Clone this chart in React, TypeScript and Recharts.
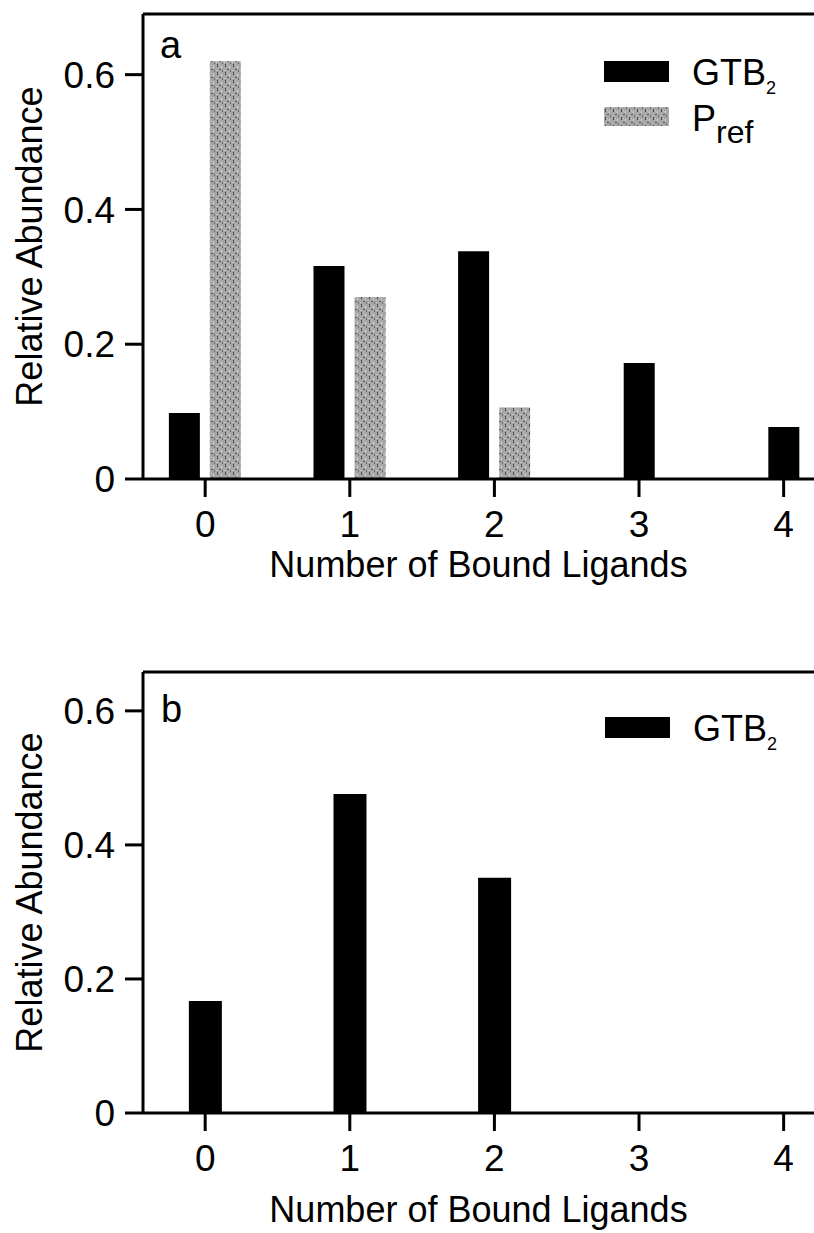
import React from "react";
import { BarChart, Bar, XAxis, YAxis, Legend, Label, ReferenceLine } from "recharts";

// number of bound ligands (x categories)
const ligands = [0, 1, 2, 3, 4];
// panel a
const gtbA = [0.098, 0.316, 0.338, 0.172, 0.077];
const prefA: (number | null)[] = [0.62, 0.27, 0.106, null, null];
// panel b
const gtbB = [0.167, 0.476, 0.351, 0, 0];
const yTicks = [0, 0.2, 0.4, 0.6];

const FONT = "'Liberation Sans', Arial, Helvetica, sans-serif";
const X_DOMAIN: [number, number] = [-0.43, 4.21];
const Y_MAX_A = 0.69;
const Y_MAX_B = 0.658;

// GTB bars pair up with Pref where there is a Pref value, and sit alone otherwise
const dataA = ligands.map((n, i) => ({
  n,
  gtb: prefA[i] != null ? gtbA[i] : null,
  pref: prefA[i],
  gtbSolo: prefA[i] == null ? gtbA[i] : null,
}));
const dataB = ligands.map((n, i) => ({ n, gtb: gtbB[i] }));

// legend name -> [main text, subscript, subscript size, subscript shift]
const SUBS: Record<string, [string, string, number, number]> = {
  GTB: ["GTB", "2", 18, 9],
  P: ["P", "ref", 32, 12],
};

const tickStyle = { fontSize: 37, fontFamily: FONT, fill: "#000" };
const axisLine = { stroke: "#000", strokeWidth: 3 };
const tickLine = { stroke: "#000", strokeWidth: 3 };
const fmt = (v: number) => (v === 0 ? "0" : v.toFixed(1));

const YTitle = ({ viewBox }: any) => {
  const cx = 42;
  const cy = viewBox.y + viewBox.height / 2;
  return (
    <text
      x={cx}
      y={cy}
      transform={`rotate(-90, ${cx}, ${cy})`}
      textAnchor="middle"
      fontSize={36}
      fontFamily={FONT}
      fill="#000"
    >
      Relative Abundance
    </text>
  );
};

const LegendBox = ({ payload }: any) => {
  const items = (payload || []).filter((p: any) => p.type !== "none");
  return (
    <svg width={200} height={90} style={{ display: "block", overflow: "visible" }}>
      {items.map((item: any, i: number) => {
        const [main, sub, subSize, subDy] = SUBS[item.value] || [item.value, "", 0, 0];
        const y = i * 46;
        return (
          <g key={`leg-${i}`}>
            <rect x={0} y={y} width={65} height={i === 0 ? 21 : 19} fill={item.color} />
            <text x={88} y={y + 24} fontSize={36} fontFamily={FONT} fill="#000">
              {main}
              <tspan fontSize={subSize} dy={subDy}>
                {sub}
              </tspan>
            </text>
          </g>
        );
      })}
    </svg>
  );
};

const PanelA = () => (
  <BarChart
    width={814}
    height={600}
    data={dataA}
    margin={{ top: 14, right: 0, left: 0, bottom: 0 }}
    barGap={10}
  >
    <XAxis
      dataKey="n"
      type="number"
      domain={X_DOMAIN}
      allowDataOverflow
      ticks={ligands}
      height={121}
      tick={tickStyle}
      tickSize={18}
      tickMargin={14}
      axisLine={axisLine}
      tickLine={tickLine}
    >
      <Label
        value="Number of Bound Ligands"
        position="insideBottom"
        offset={23}
        style={{ fontSize: 36, fontFamily: FONT, fill: "#000" }}
      />
    </XAxis>
    <XAxis xAxisId="solo" dataKey="n" type="number" domain={X_DOMAIN} allowDataOverflow hide />
    <YAxis
      domain={[0, Y_MAX_A]}
      allowDataOverflow
      ticks={yTicks}
      tickFormatter={fmt}
      width={143}
      tick={tickStyle}
      tickSize={18}
      tickMargin={10}
      axisLine={axisLine}
      tickLine={tickLine}
      label={{ content: YTitle }}
    />
    <ReferenceLine y={Y_MAX_A} stroke="#000" strokeWidth={3} />
    <Legend
      layout="horizontal"
      verticalAlign="middle"
      align="center"
      wrapperStyle={{ left: 604, top: 61, width: 200, height: 90 }}
      content={LegendBox}
    />
    <Bar dataKey="gtb" name="GTB" fill="#000" barSize={31} isAnimationActive={false} />
    <Bar dataKey="pref" name="P" fill="url(#prefTexture)" barSize={31} isAnimationActive={false} />
    <Bar
      dataKey="gtbSolo"
      xAxisId="solo"
      fill="#000"
      barSize={31}
      legendType="none"
      isAnimationActive={false}
    />
    <text x={160} y={58} fontSize={38} fontFamily={FONT} fill="#000">
      a
    </text>
  </BarChart>
);

const PanelB = () => (
  <BarChart
    width={814}
    height={633}
    data={dataB}
    margin={{ top: 72, right: 0, left: 0, bottom: 0 }}
  >
    <XAxis
      dataKey="n"
      type="number"
      domain={X_DOMAIN}
      allowDataOverflow
      ticks={ligands}
      height={120}
      tick={tickStyle}
      tickSize={18}
      tickMargin={14}
      axisLine={axisLine}
      tickLine={tickLine}
    >
      <Label
        value="Number of Bound Ligands"
        position="insideBottom"
        offset={11}
        style={{ fontSize: 36, fontFamily: FONT, fill: "#000" }}
      />
    </XAxis>
    <YAxis
      domain={[0, Y_MAX_B]}
      allowDataOverflow
      ticks={yTicks}
      tickFormatter={fmt}
      width={143}
      tick={tickStyle}
      tickSize={18}
      tickMargin={10}
      axisLine={axisLine}
      tickLine={tickLine}
      label={{ content: YTitle }}
    />
    <ReferenceLine y={Y_MAX_B} stroke="#000" strokeWidth={3} />
    <Legend
      layout="horizontal"
      verticalAlign="middle"
      align="center"
      wrapperStyle={{ left: 605, top: 117, width: 200, height: 45 }}
      content={LegendBox}
    />
    <Bar dataKey="gtb" name="GTB" fill="#000" barSize={33} isAnimationActive={false} />
    <text x={161} y={122} fontSize={38} fontFamily={FONT} fill="#000">
      b
    </text>
  </BarChart>
);

export default function App() {
  return (
    <div
      style={{
        position: "absolute",
        left: 0,
        top: 0,
        width: 814,
        height: 1233,
        background: "#fff",
        overflow: "hidden",
      }}
    >
      <svg width={0} height={0} style={{ position: "absolute" }}>
        <defs>
          <pattern id="prefTexture" width={8} height={8} patternUnits="userSpaceOnUse">
            <rect width={8} height={8} fill="#a6a6a6" />
            <rect x={1} y={0} width={1} height={3} fill="#4a4a4a" />
            <rect x={5} y={2} width={1} height={2} fill="#d4d4d4" />
            <rect x={3} y={5} width={2} height={1} fill="#5c5c5c" />
            <rect x={6} y={6} width={1} height={2} fill="#707070" />
            <rect x={0} y={6} width={1} height={1} fill="#d0d0d0" />
            <rect x={3} y={1} width={1} height={1} fill="#cfcfcf" />
          </pattern>
        </defs>
      </svg>
      <PanelA />
      <PanelB />
    </div>
  );
}
